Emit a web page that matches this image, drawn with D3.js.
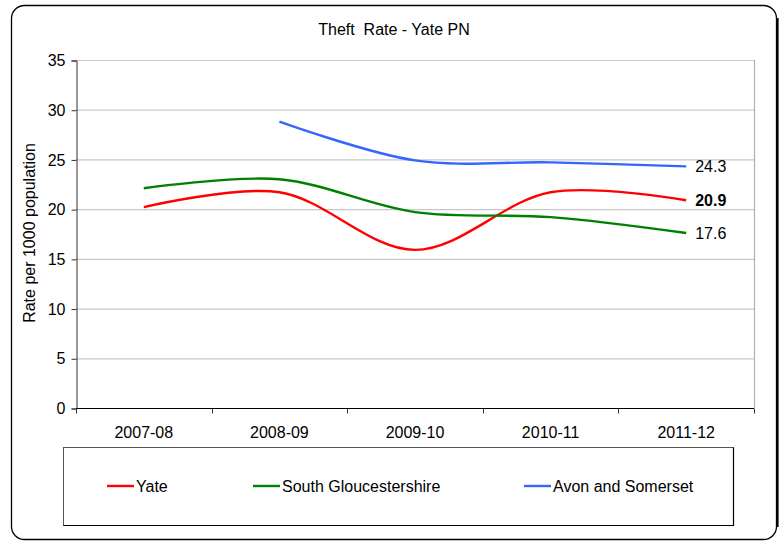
<!DOCTYPE html>
<html>
<head>
<meta charset="utf-8">
<script src="https://cdn.jsdelivr.net/npm/d3@7"></script>
<style>
  html, body { margin: 0; padding: 0; background: #fff; }
  svg { display: block; font-family: "Liberation Sans", Arial, sans-serif; }
</style>
</head>
<body>
<svg id="chart" width="784" height="541"></svg>
<script>
// Theft rate per 1000 population, by financial year
const years = ["2007-08", "2008-09", "2009-10", "2010-11", "2011-12"];
const yate = [20.2, 21.7, 15.9, 21.7, 20.9];
const southGlos = [22.1, 23.0, 19.7, 19.2, 17.6];
const avonSomerset = [null, 28.8, 24.9, 24.7, 24.3];
const yTicks = [0, 5, 10, 15, 20, 25, 30, 35];

const seriesList = [
  { name: "Yate", values: yate, color: "#ff0000", bold: true },
  { name: "South Gloucestershire", values: southGlos, color: "#008000", bold: false },
  { name: "Avon and Somerset", values: avonSomerset, color: "#3366ff", bold: false }
];

const FONT = 16;
const svg = d3.select("#chart");

// Outer frame with rounded corners
svg.append("rect")
  .attr("x", 11.5).attr("y", 5.5)
  .attr("width", 765).attr("height", 534)
  .attr("rx", 13).attr("ry", 13)
  .attr("fill", "#fff")
  .attr("stroke", "#000").attr("stroke-width", 1.3);
// heavier right edge (shadow side)
svg.append("path")
  .attr("d", "M777.5,18 L777.5,527")
  .attr("stroke", "#000").attr("stroke-width", 2.2).attr("fill", "none");

// Title
svg.append("text")
  .attr("x", 394).attr("y", 35)
  .attr("text-anchor", "middle")
  .attr("font-size", FONT)
  .attr("xml:space", "preserve")
  .style("white-space", "pre")
  .text("Theft  Rate - Yate PN");

const plot = { left: 76, right: 754, top: 60, bottom: 408 };

const x = d3.scaleBand().domain(years).range([plot.left, plot.right]);
const y = d3.scaleLinear().domain([0, 35]).range([plot.bottom, plot.top]);

// Horizontal gridlines
svg.append("g")
  .selectAll("line")
  .data(yTicks.filter(d => d > 0))
  .join("line")
  .attr("x1", plot.left).attr("x2", plot.right)
  .attr("y1", d => y(d) + 0.5).attr("y2", d => y(d) + 0.5)
  .attr("stroke", "#c8c8c8").attr("stroke-width", 1.2);

// Right edge of the plot area
svg.append("line")
  .attr("x1", plot.right + 0.5).attr("x2", plot.right + 0.5)
  .attr("y1", plot.top).attr("y2", plot.bottom)
  .attr("stroke", "#b0b0b0").attr("stroke-width", 1.2);

// Y axis
const yAxis = svg.append("g")
  .attr("transform", `translate(${plot.left + 0.5},0.5)`)
  .call(d3.axisLeft(y).tickValues(yTicks).tickSize(5).tickPadding(6));
yAxis.select(".domain").attr("stroke", "#333");
yAxis.selectAll(".tick line").attr("stroke", "#333");
yAxis.selectAll("text")
  .attr("font-size", FONT).attr("fill", "#000")
  .attr("font-family", "Liberation Sans, Arial, sans-serif");

// X axis with ticks at the band boundaries
const xAxis = svg.append("g")
  .attr("transform", `translate(0,${plot.bottom + 0.5})`)
  .call(d3.axisBottom(x).tickSize(0).tickPadding(18.5));
xAxis.select(".domain").attr("stroke", "#000").attr("d", `M${plot.left},0H${plot.right}`);
xAxis.selectAll("text")
  .attr("font-size", FONT).attr("fill", "#000")
  .attr("font-family", "Liberation Sans, Arial, sans-serif");
const bounds = years.map(d => x(d)).concat([x(years[years.length - 1]) + x.bandwidth()]);
xAxis.selectAll(".bound")
  .data(bounds)
  .join("line")
  .attr("class", "bound")
  .attr("x1", d => Math.round(d) + 0.5).attr("x2", d => Math.round(d) + 0.5)
  .attr("y1", 0).attr("y2", 5)
  .attr("stroke", "#333");

// Y axis title
svg.append("text")
  .attr("transform", "translate(35,233) rotate(-90)")
  .attr("text-anchor", "middle")
  .attr("font-size", FONT)
  .text("Rate per 1000 population");

// Series lines (smoothed)
const cx = d => x(d) + x.bandwidth() / 2;
const line = d3.line()
  .defined(d => d.v != null)
  .x(d => cx(d.year))
  .y(d => y(d.v))
  .curve(d3.curveCatmullRom.alpha(0.5));

seriesList.forEach(s => {
  const pts = years.map((yr, i) => ({ year: yr, v: s.values[i] })).filter(d => d.v != null);
  svg.append("path")
    .datum(pts)
    .attr("d", line)
    .attr("fill", "none")
    .attr("stroke", s.color)
    .attr("stroke-width", 2.4)
    .attr("stroke-linejoin", "round");

  // end-of-line value label
  const last = pts[pts.length - 1];
  svg.append("text")
    .attr("x", cx(last.year) + 9)
    .attr("y", y(last.v) + 5.5)
    .attr("font-size", FONT)
    .attr("font-weight", s.bold ? "bold" : "normal")
    .text(last.v.toFixed(1));
});

// Legend
const legend = svg.append("g");
legend.append("rect")
  .attr("x", 63.5).attr("y", 447.5)
  .attr("width", 670).attr("height", 78)
  .attr("fill", "#fff")
  .attr("stroke", "#555").attr("stroke-width", 1);
legend.append("path")
  .attr("d", "M63.5,525.5H733.5V447.5")
  .attr("fill", "none").attr("stroke", "#000").attr("stroke-width", 1.2);

const legendX = [107, 253, 524];
seriesList.forEach((s, i) => {
  const g = legend.append("g").attr("transform", `translate(${legendX[i]},486)`);
  g.append("line")
    .attr("x1", 0).attr("x2", 27)
    .attr("y1", 0).attr("y2", 0)
    .attr("stroke", s.color).attr("stroke-width", 2.4);
  g.append("text")
    .attr("x", 29).attr("y", 6)
    .attr("font-size", FONT)
    .text(s.name);
});
</script>
</body>
</html>
